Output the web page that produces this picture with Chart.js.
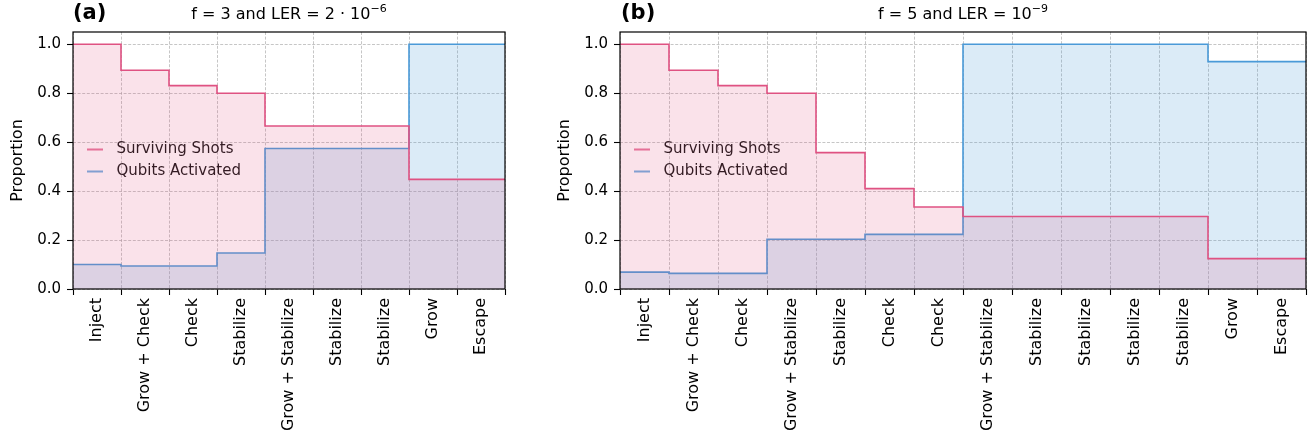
<!DOCTYPE html>
<html>
<head>
<meta charset="utf-8">
<script src="https://cdn.jsdelivr.net/npm/chart.js@4"></script>
<style>
  html, body { margin: 0; padding: 0; background: #fff; }
  #wrap { position: relative; width: 1311px; height: 440px; font-family: "DejaVu Sans", sans-serif; color: #000; }
  canvas { position: absolute; top: 0; }
  .tag { position: absolute; top: 0; font-size: 21px; font-weight: bold; line-height: 24px; }
  .ttl { position: absolute; top: 5px; font-size: 16px; line-height: 18px; text-align: center; white-space: nowrap; }
  .ttl sup { font-size: 11px; vertical-align: 7px; line-height: 0; }
</style>
</head>
<body>
<div id="wrap">
  <canvas id="chartA" width="530" height="440" style="left:0"></canvas>
  <canvas id="chartB" width="781" height="440" style="left:530px"></canvas>
  <div class="tag" style="left:73px">(a)</div>
  <div class="ttl" style="left:73px;width:432px">f = 3 and LER = 2 · 10<sup>−6</sup></div>
  <div class="tag" style="left:621px">(b)</div>
  <div class="ttl" style="left:620px;width:686px">f = 5 and LER = 10<sup>−9</sup></div>
</div>
<script>
// Protocol stages and measured proportions, panel (a): f = 3
const stagesA = ['Inject', 'Grow + Check', 'Check', 'Stabilize', 'Grow + Stabilize',
                 'Stabilize', 'Stabilize', 'Grow', 'Escape'];
const survivingA = [1.0, 0.894, 0.831, 0.800, 0.666, 0.666, 0.666, 0.448, 0.448];
const qubitsA    = [0.100, 0.094, 0.094, 0.147, 0.574, 0.574, 0.574, 1.0, 1.0];

// Panel (b): f = 5
const stagesB = ['Inject', 'Grow + Check', 'Check', 'Grow + Stabilize', 'Stabilize', 'Check',
                 'Check', 'Grow + Stabilize', 'Stabilize', 'Stabilize', 'Stabilize',
                 'Stabilize', 'Grow', 'Escape'];
const survivingB = [1.0, 0.894, 0.831, 0.800, 0.557, 0.410, 0.335, 0.296, 0.296, 0.296,
                    0.296, 0.296, 0.124, 0.124];
const qubitsB    = [0.069, 0.064, 0.064, 0.203, 0.203, 0.223, 0.223, 1.0, 1.0, 1.0,
                    1.0, 1.0, 0.929, 0.929];

const yTicks = [0, 0.2, 0.4, 0.6, 0.8, 1.0];

const PINK = '#df5282';
const BLUE = '#4a9ad8';
const FONT = '"DejaVu Sans", sans-serif';

// Each stage holds its value across its bin [i, i+1); the last value is carried to the right edge.
function stepPoints(values) {
  const pts = values.map((v, i) => ({ x: i, y: v }));
  pts.push({ x: values.length, y: values[values.length - 1] });
  return pts;
}

// Legend handle: a short line segment followed by a small gap before the label
function handle(color) {
  const c = document.createElement('canvas');
  c.width = 22; c.height = 4;
  const g = c.getContext('2d');
  g.strokeStyle = color;
  g.lineWidth = 1.6;
  g.beginPath(); g.moveTo(0, 2); g.lineTo(16, 2); g.stroke();
  return c;
}

// Full rectangular frame around the plot area, and legend placed inside it
const frame = {
  id: 'frame',
  afterLayout(chart) {
    const lg = chart.legend, a = chart.chartArea;
    if (!lg) return;
    lg.left = a.left + 7;
    lg.top = a.top;
    lg.bottom = a.bottom;
    lg.height = a.bottom - a.top;
  },
  afterDraw(chart) {
    const { ctx, chartArea: a } = chart;
    ctx.save();
    ctx.strokeStyle = '#000';
    ctx.lineWidth = 1.2;
    ctx.strokeRect(a.left, a.top, a.right - a.left, a.bottom - a.top);
    ctx.restore();
  }
};

function makePanel(id, stages, surviving, qubits, padLeft, padRight) {
  const n = stages.length;
  return new Chart(document.getElementById(id), {
    type: 'line',
    data: {
      datasets: [
        {
          label: 'Surviving Shots',
          data: stepPoints(surviving),
          borderColor: PINK,
          backgroundColor: 'rgba(223,82,130,0.17)',
          borderWidth: 1.6,
          stepped: true,
          fill: 'origin',
          pointRadius: 0,
          pointStyle: handle(PINK)
        },
        {
          label: 'Qubits Activated',
          data: stepPoints(qubits),
          borderColor: BLUE,
          backgroundColor: 'rgba(74,154,216,0.2)',
          borderWidth: 1.6,
          stepped: true,
          fill: 'origin',
          pointRadius: 0,
          pointStyle: handle(BLUE)
        }
      ]
    },
    options: {
      responsive: false,
      animation: false,
      devicePixelRatio: 1,
      layout: { padding: { left: padLeft, right: padRight, top: 32, bottom: 0 } },
      plugins: {
        legend: {
          position: 'chartArea',
          align: 'center',
          labels: {
            usePointStyle: true,
            pointStyleWidth: 22,
            padding: 7,
            color: '#111',
            font: { family: FONT, size: 15 }
          }
        },
        tooltip: { enabled: false }
      },
      scales: {
        x: {
          type: 'linear',
          min: 0,
          max: n,
          afterBuildTicks(scale) {
            scale.ticks = stages.map((_, i) => ({ value: i + 0.5 }));
          },
          afterFit(scale) { scale.height = 151; },
          ticks: {
            autoSkip: false,
            minRotation: 90,
            maxRotation: 90,
            padding: 3,
            color: '#000',
            font: { family: FONT, size: 16 },
            callback: (v, i) => stages[i]
          },
          grid: {
            offset: true,
            color: 'rgba(170,170,170,0.85)',
            lineWidth: 0.8,
            tickLength: 6,
            tickColor: '#000',
            tickWidth: 1.1
          },
          border: { display: false, dash: [3, 1.6] }
        },
        y: {
          min: 0,
          max: 1.05,
          afterBuildTicks(scale) {
            scale.ticks = yTicks.map(v => ({ value: v }));
          },
          afterFit(scale) { scale.width = 65; },
          ticks: {
            padding: 6,
            color: '#000',
            font: { family: FONT, size: 15 },
            callback: v => Number(v).toFixed(1)
          },
          grid: {
            color: 'rgba(170,170,170,0.85)',
            lineWidth: 0.8,
            tickLength: 6,
            tickColor: '#000',
            tickWidth: 1.1
          },
          border: { display: false, dash: [3, 1.6] },
          title: {
            display: true,
            text: 'Proportion',
            color: '#000',
            font: { family: FONT, size: 16 },
            padding: { top: 0, bottom: 4 }
          }
        }
      }
    },
    plugins: [frame]
  });
}

makePanel('chartA', stagesA, survivingA, qubitsA, 8, 25);
makePanel('chartB', stagesB, survivingB, qubitsB, 25, 5);
</script>
</body>
</html>
